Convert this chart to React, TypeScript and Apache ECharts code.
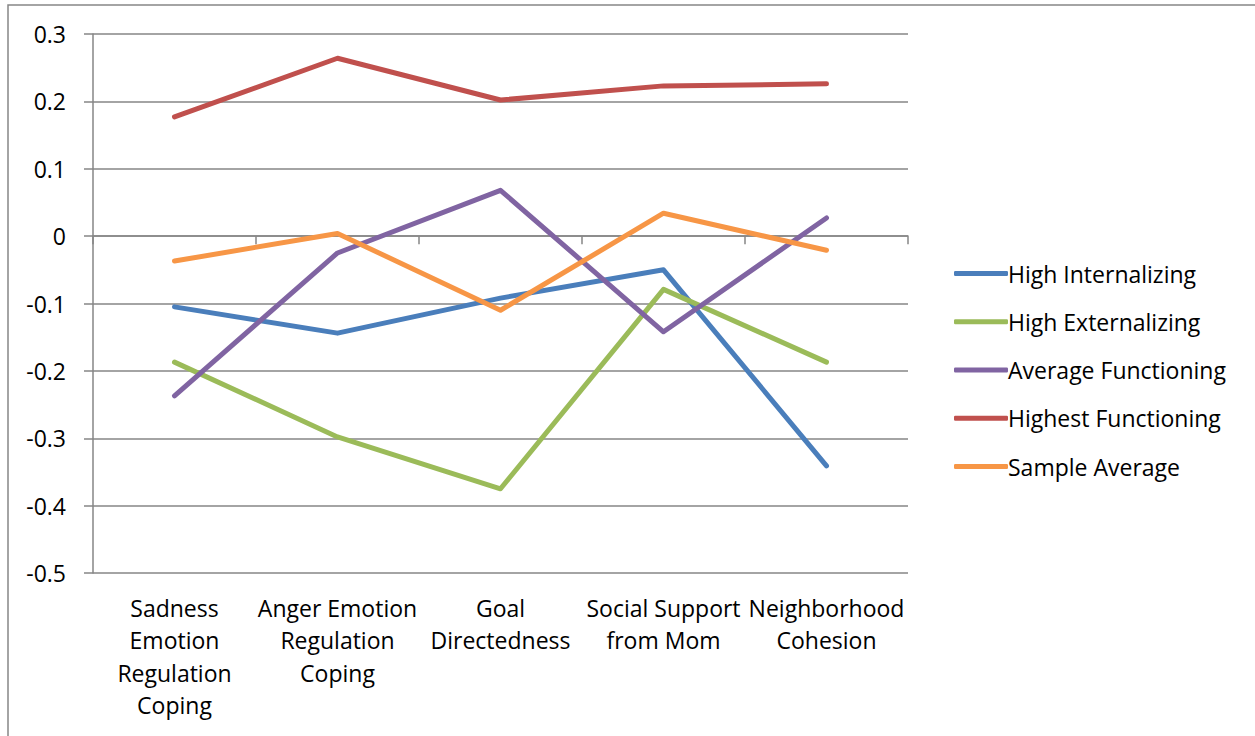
import React, { useEffect, useRef } from "react";
import * as echarts from "echarts";

const categories = [
  "Sadness\nEmotion\nRegulation\nCoping",
  "Anger Emotion\nRegulation\nCoping",
  "Goal\nDirectedness",
  "Social Support\nfrom Mom",
  "Neighborhood\nCohesion",
];

const highInternalizing = [-0.105, -0.144, -0.092, -0.05, -0.341];
const highExternalizing = [-0.187, -0.298, -0.375, -0.079, -0.187];
const averageFunctioning = [-0.237, -0.025, 0.068, -0.142, 0.027];
const highestFunctioning = [0.177, 0.264, 0.202, 0.223, 0.226];
const sampleAverage = [-0.037, 0.004, -0.11, 0.034, -0.021];

const seriesDefs = [
  { name: "High Internalizing", data: highInternalizing, color: "#4A7EBB" },
  { name: "High Externalizing", data: highExternalizing, color: "#9BBB59" },
  { name: "Average Functioning", data: averageFunctioning, color: "#8064A2" },
  { name: "Highest Functioning", data: highestFunctioning, color: "#C0504D" },
  { name: "Sample Average", data: sampleAverage, color: "#F79646" },
];

const FONT = "'Open Sans', sans-serif";
const GRID = "#868686";

export default function App() {
  const ref = useRef<HTMLDivElement>(null);
  useEffect(() => {
    if (!ref.current) return;
    const chart = echarts.init(ref.current, null, { renderer: "svg" });
    chart.setOption({
      animation: false,
      backgroundColor: "#fff",
      graphic: [
        {
          type: "rect",
          shape: { x: 8, y: 5, width: 1300, height: 800 },
          style: { fill: "none", stroke: "#868686", lineWidth: 1.5 },
          silent: true,
        },
      ],
      grid: { left: 93, right: 347, top: 34, bottom: 163, containLabel: false },
      legend: {
        orient: "vertical",
        left: 949,
        top: 257,
        itemWidth: 54,
        itemHeight: 5,
        itemGap: 25.25,
        icon: "roundRect",
        textStyle: { fontFamily: FONT, fontSize: 23, color: "#000", padding: [0, 0, 0, -5] },
        data: seriesDefs.map((s) => s.name),
      },
      xAxis: [
        {
          type: "category",
          data: categories,
          boundaryGap: true,
          axisLine: { onZero: true, lineStyle: { color: GRID, width: 1.5 } },
          axisTick: { show: true, length: 8, lineStyle: { color: GRID, width: 1.5 } },
          axisLabel: { show: false },
          splitLine: { show: false },
        },
        {
          type: "category",
          data: categories,
          position: "bottom",
          boundaryGap: true,
          axisLine: { show: false, onZero: false },
          axisTick: { show: false },
          axisLabel: {
            show: true,
            margin: 19,
            interval: 0,
            fontFamily: FONT,
            fontSize: 23,
            lineHeight: 32.3,
            color: "#000",
          },
        },
      ],
      yAxis: {
        type: "value",
        min: -0.5,
        max: 0.3,
        interval: 0.1,
        axisLine: { show: true, lineStyle: { color: GRID, width: 1.5 } },
        axisTick: { show: true, length: 9, lineStyle: { color: GRID, width: 1.5 } },
        splitLine: { show: true, lineStyle: { color: GRID, width: 1.5 } },
        axisLabel: {
          margin: 27,
          fontFamily: FONT,
          fontSize: 23,
          color: "#000",
          formatter: (v: number) => String(parseFloat(v.toFixed(1))),
        },
      },
      series: seriesDefs.map((s) => ({
        name: s.name,
        type: "line",
        xAxisIndex: 0,
        data: s.data,
        symbol: "none",
        lineStyle: { color: s.color, width: 5, cap: "round", join: "round" },
        itemStyle: { color: s.color },
      })),
    });
    return () => chart.dispose();
  }, []);
  return (
    <div
      ref={ref}
      style={{ position: "absolute", left: 0, top: 0, width: 1255, height: 736 }}
    />
  );
}
